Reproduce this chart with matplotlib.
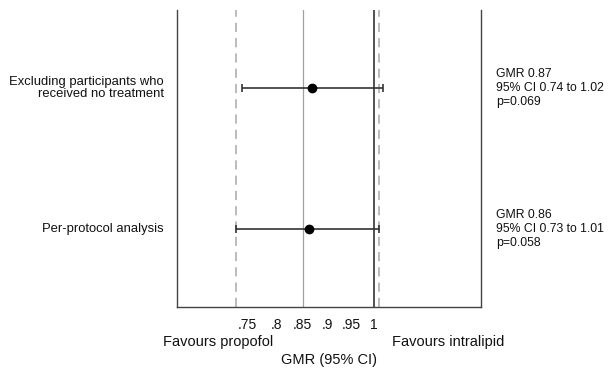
import matplotlib

matplotlib.use('Agg')
import matplotlib.pyplot as plt
from matplotlib.transforms import blended_transform_factory

plt.rcParams['font.family'] = ['Liberation Sans', 'DejaVu Sans']

# Sensitivity analyses (geometric mean ratio, 95% CI)
analyses = ["Excluding participants who\nreceived no treatment", "Per-protocol analysis"]
gmr = [0.868, 0.863]
ci_low = [0.74, 0.73]
ci_high = [1.02, 1.012]
p_values = ["0.069", "0.058"]
gmr_text = ["0.87", "0.86"]
ci_text = [("0.74", "1.02"), ("0.73", "1.01")]

ref_lines = [0.85, 1.0]
margins = [0.73, 1.012]
tick_vals = [0.75, 0.8, 0.85, 0.9, 0.95, 1.0]
tick_labels = [".75", ".8", ".85", ".9", ".95", "1"]

fig = plt.figure(figsize=(6.14, 3.69), dpi=100)
ax = fig.add_axes([0.2883, 0.168, 0.4951, 0.805])

ypos = [2, 1]

# Reference and margin lines
ax.axvline(ref_lines[0], color='#a0a0a0', lw=0.9, zorder=1)
ax.axvline(ref_lines[1], color='#222222', lw=1.1, zorder=1)
for m in margins:
    ax.axvline(m, color='#a8a8a8', lw=1.1, ls=(0, (6, 4)), zorder=1)

# Point estimates with CIs
for y, g, lo, hi in zip(ypos, gmr, ci_low, ci_high):
    ax.errorbar(g, y, xerr=[[g - lo], [hi - g]], fmt='o', color='black',
                ecolor='#333333', elinewidth=1.2, capsize=3, capthick=1.2,
                markersize=6, zorder=3)

ax.set_xscale('log')
ax.set_xlim(0.638, 1.277)
ax.set_ylim(0.447, 2.553)

ax.set_xticks(tick_vals)
ax.set_xticklabels(tick_labels)
ax.xaxis.set_minor_locator(matplotlib.ticker.NullLocator())
ax.tick_params(axis='x', length=0, pad=8, labelsize=10, labelcolor='#111111')
ax.set_yticks([])

for side in ['left', 'right', 'bottom']:
    ax.spines[side].set_color('#444444')
    ax.spines[side].set_linewidth(1.0)
ax.spines['top'].set_visible(False)

# Row labels on the left
for y, name in zip(ypos, analyses):
    ax.text(-0.043, y, name, transform=blended_transform_factory(ax.transAxes, ax.transData),
            ha='right', va='center', fontsize=9.4, color='#111111', linespacing=1.0)

# Estimates on the right
for y, g, (lo, hi), p in zip(ypos, gmr_text, ci_text, p_values):
    ax.text(1.05, y, f"GMR {g}\n95% CI {lo} to {hi}\np={p}",
            transform=blended_transform_factory(ax.transAxes, ax.transData),
            ha='left', va='center', fontsize=8.8, color='#111111', linespacing=1.2)

# Direction labels and axis title
ax.text(0.135, -0.118, "Favours propofol", transform=ax.transAxes,
        ha='center', va='center', fontsize=10.5, color='#111111')
ax.text(0.891, -0.118, "Favours intralipid", transform=ax.transAxes,
        ha='center', va='center', fontsize=10.5, color='#111111')
ax.text(0.5, -0.178, "GMR (95% CI)", transform=ax.transAxes,
        ha='center', va='center', fontsize=10.5, color='#111111')

fig.savefig('out.png', dpi=100)
